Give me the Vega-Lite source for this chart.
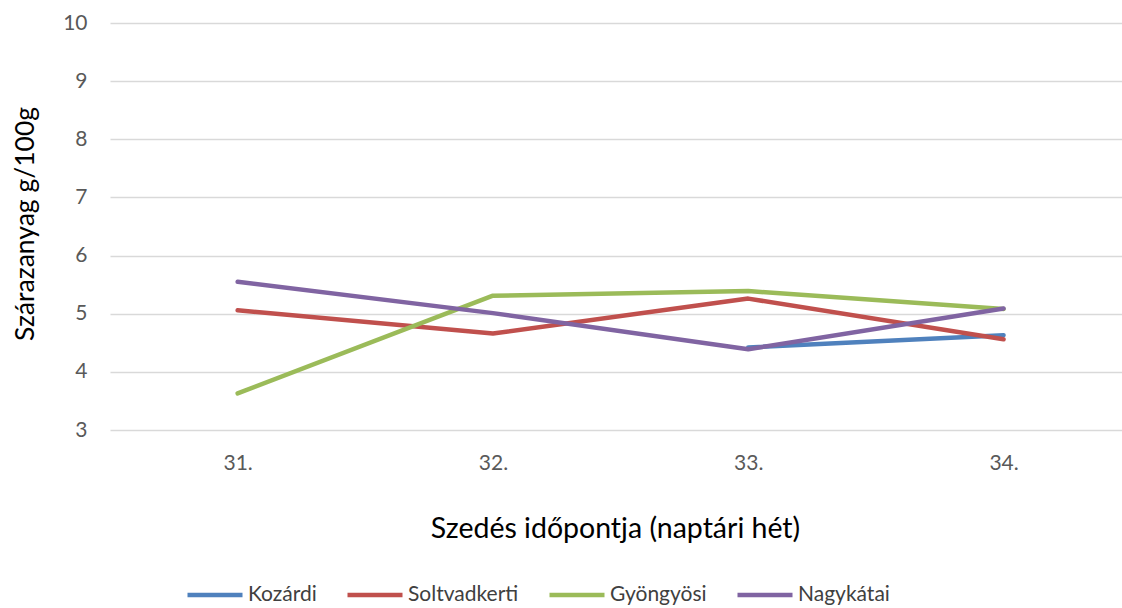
{
  "$schema": "https://vega.github.io/schema/vega-lite/v6.json",
  "width": 1012,
  "height": 407,
  "autosize": "none",
  "padding": {"left": 110, "top": 23, "right": 0, "bottom": 178},
  "background": "white",
  "config": {
    "font": "Lato",
    "view": {"stroke": null}
  },
  "data": {
    "values": [
      {"het": 33, "fajta": "Kozárdi", "ertek": 4.42},
      {"het": 34, "fajta": "Kozárdi", "ertek": 4.63},
      {"het": 31, "fajta": "Soltvadkerti", "ertek": 5.06},
      {"het": 32, "fajta": "Soltvadkerti", "ertek": 4.66},
      {"het": 33, "fajta": "Soltvadkerti", "ertek": 5.26},
      {"het": 34, "fajta": "Soltvadkerti", "ertek": 4.56},
      {"het": 31, "fajta": "Gyöngyösi", "ertek": 3.63},
      {"het": 32, "fajta": "Gyöngyösi", "ertek": 5.31},
      {"het": 33, "fajta": "Gyöngyösi", "ertek": 5.39},
      {"het": 34, "fajta": "Gyöngyösi", "ertek": 5.08},
      {"het": 31, "fajta": "Nagykátai", "ertek": 5.55},
      {"het": 32, "fajta": "Nagykátai", "ertek": 5.01},
      {"het": 33, "fajta": "Nagykátai", "ertek": 4.39},
      {"het": 34, "fajta": "Nagykátai", "ertek": 5.09}
    ]
  },
  "mark": {"type": "line", "strokeWidth": 4.5, "strokeJoin": "round", "strokeCap": "round"},
  "encoding": {
    "x": {
      "field": "het",
      "type": "quantitative",
      "scale": {"domain": [30.5, 34.464], "nice": false, "zero": false},
      "axis": {
        "values": [31, 32, 33, 34],
        "labelExpr": "datum.value + '.'",
        "grid": false,
        "domain": false,
        "ticks": false,
        "labelFontSize": 21,
        "labelColor": "#595959",
        "labelPadding": 22,
        "title": "Szedés időpontja (naptári hét)",
        "titleFontSize": 28.5,
        "titleFontWeight": "normal",
        "titleColor": "#000000",
        "titleX": 505,
        "titleY": 107,
        "titleBaseline": "alphabetic"
      }
    },
    "y": {
      "field": "ertek",
      "type": "quantitative",
      "scale": {"domain": [3, 10], "nice": false, "zero": false},
      "axis": {
        "values": [3, 4, 5, 6, 7, 8, 9, 10],
        "grid": true,
        "gridColor": "#D9D9D9",
        "gridWidth": 1.3,
        "domain": false,
        "ticks": false,
        "labelFontSize": 21,
        "labelColor": "#595959",
        "labelPadding": 23,
        "title": "Szárazanyag g/100g",
        "titleFontSize": 26.5,
        "titleFontWeight": "normal",
        "titleColor": "#000000",
        "titleX": -77,
        "titleY": 200.5,
        "titleBaseline": "alphabetic"
      }
    },
    "color": {
      "field": "fajta",
      "type": "nominal",
      "scale": {
        "domain": ["Kozárdi", "Soltvadkerti", "Gyöngyösi", "Nagykátai"],
        "range": ["#4F81BD", "#C0504D", "#9BBB59", "#8064A2"]
      },
      "legend": {
        "title": null,
        "orient": "none",
        "direction": "horizontal",
        "legendX": 75,
        "legendY": 542,
        "symbolType": "stroke",
        "symbolSize": 3025,
        "symbolStrokeWidth": 4.5,
        "labelOffset": 3,
        "labelFontSize": 21,
        "labelColor": "#404040",
        "columnPadding": 21
      }
    }
  }
}
